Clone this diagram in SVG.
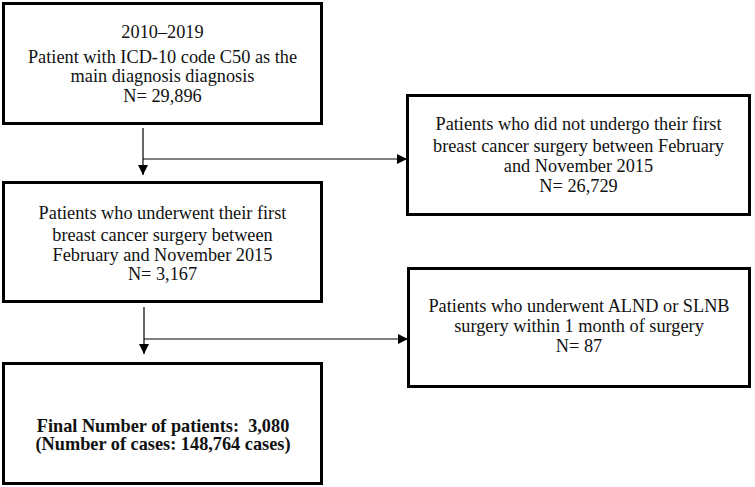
<svg xmlns="http://www.w3.org/2000/svg" width="755" height="487" viewBox="0 0 755 487">
<defs>
<style>
.box{fill:#fff;stroke:#000;stroke-width:3}
.t{font-family:"Liberation Serif","Times New Roman",serif;font-size:18.3px;fill:#111;text-anchor:middle}
.b{font-weight:bold;white-space:pre}
.c{fill:none;stroke:#000;stroke-width:1.2}
</style>
<marker id="ah" viewBox="0 0 10 10" refX="10" refY="5" markerWidth="10" markerHeight="10" markerUnits="userSpaceOnUse" orient="auto">
<path d="M0,0 L10,5 L0,10 Z" fill="#000"/>
</marker>
</defs>
<g id="n1">
<rect class="box" x="3.5" y="3.5" width="318" height="120"/>
<text class="t" x="162.5" y="38">2010–2019</text>
<text class="t" x="162.5" y="63">Patient with ICD-10 code C50 as the</text>
<text class="t" x="162.5" y="82">main diagnosis diagnosis</text>
<text class="t" x="162.5" y="101.5">N= 29,896</text>
</g>
<g id="n2">
<rect class="box" x="407.5" y="95.5" width="342" height="119"/>
<text class="t" x="578.5" y="130">Patients who did not undergo their first</text>
<text class="t" x="578.5" y="151.5">breast cancer surgery between February</text>
<text class="t" x="578.5" y="171.5">and November 2015</text>
<text class="t" x="578.5" y="191.5">N= 26,729</text>
</g>
<g id="n3">
<rect class="box" x="3.5" y="182.5" width="318" height="119"/>
<text class="t" x="162.5" y="219">Patients who underwent their first</text>
<text class="t" x="162.5" y="240.5">breast cancer surgery between</text>
<text class="t" x="162.5" y="260.5">February and November 2015</text>
<text class="t" x="162.5" y="280">N= 3,167</text>
</g>
<g id="n4">
<rect class="box" x="408.5" y="268.5" width="341" height="118"/>
<text class="t" x="579" y="311.5">Patients who underwent ALND or SLNB</text>
<text class="t" x="579" y="331.5">surgery within 1 month of surgery</text>
<text class="t" x="579" y="351.5">N= 87</text>
</g>
<g id="n5">
<rect class="box" x="3.5" y="363.5" width="318" height="120"/>
<text class="t b" x="163" y="431.5" xml:space="preserve">Final Number of patients:  3,080</text>
<text class="t b" x="163" y="450">(Number of cases: 148,764 cases)</text>
</g>
<g id="connectors">
<line class="c" x1="143" y1="128" x2="143" y2="175" marker-end="url(#ah)"/>
<line class="c" x1="143" y1="159" x2="407" y2="159" marker-end="url(#ah)"/>
<line class="c" x1="144" y1="307" x2="144" y2="354" marker-end="url(#ah)"/>
<line class="c" x1="144" y1="339" x2="408" y2="339" marker-end="url(#ah)"/>
</g>
</svg>
